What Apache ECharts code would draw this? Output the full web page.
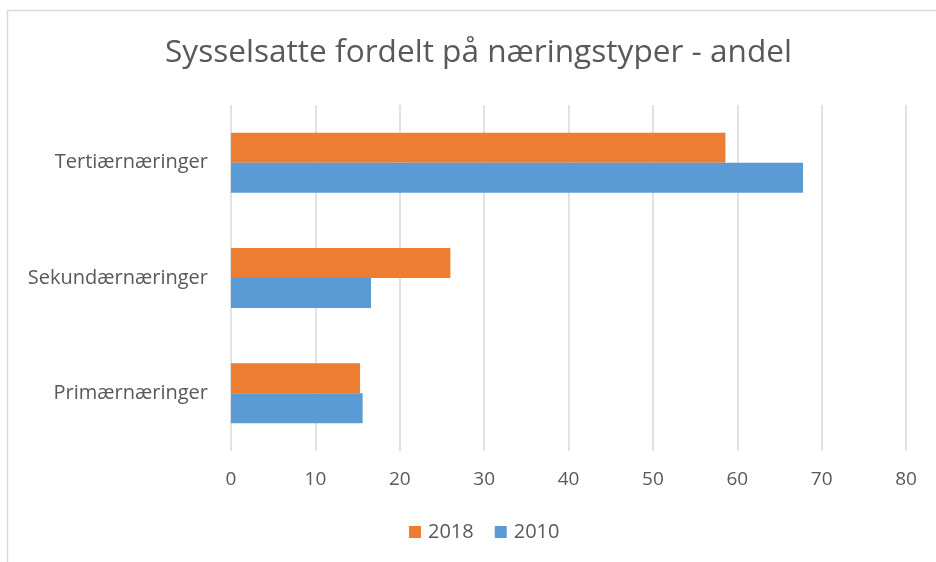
<!DOCTYPE html>
<html>
<head>
<meta charset="utf-8">
<script src="https://cdn.jsdelivr.net/npm/echarts@6/dist/echarts.min.js"></script>
<style>
  html, body { margin: 0; padding: 0; background: #fff; }
  #main { width: 936px; height: 562px; }
</style>
</head>
<body>
<div id="main"></div>
<script>
// data
const categories = ["Primærnæringer", "Sekundærnæringer", "Tertiærnæringer"];
const values2018 = [15.3, 26.0, 58.6];
const values2010 = [15.6, 16.6, 67.8];
const xTicks = { min: 0, max: 80, interval: 10 };

const chart = echarts.init(document.getElementById("main"));
const textColor = "#595959";
const fontFamily = "'Open Sans', sans-serif";

const option = {
  backgroundColor: "#fff",
  animation: false,
  title: {
    text: "Sysselsatte fordelt på næringstyper - andel",
    left: 160,
    top: 32,
    textStyle: { color: textColor, fontSize: 31.6, fontWeight: "normal", fontFamily },
  },
  graphic: [
    {
      type: "rect",
      left: 5,
      top: 8,
      shape: { width: 1000, height: 1000 },
      style: { fill: "none", stroke: "#d9d9d9", lineWidth: 1.5 },
      silent: true,
    },
  ],
  legend: {
    data: ["2018", "2010"],
    bottom: 15,
    left: 404,
    itemWidth: 12,
    itemHeight: 12,
    itemGap: 21,
    icon: "rect",
    textStyle: { color: textColor, fontSize: 20, fontFamily, padding: [0, 0, 0, 2] },
  },
  grid: { left: 231, right: 30, top: 105, bottom: 111 },
  xAxis: {
    type: "value",
    min: xTicks.min,
    max: xTicks.max,
    interval: xTicks.interval,
    axisLine: { show: false },
    axisTick: { show: false },
    axisLabel: { color: textColor, fontSize: 19, fontFamily, margin: 19 },
    splitLine: { lineStyle: { color: "#d9d9d9", width: 1.5 } },
  },
  yAxis: {
    type: "category",
    data: categories,
    axisLine: { show: false },
    axisTick: { show: false },
    axisLabel: { color: textColor, fontSize: 20, fontFamily, margin: 23 },
  },
  series: [
    {
      name: "2018",
      type: "bar",
      data: values2018,
      barWidth: 30,
      barGap: "0%",
      itemStyle: { color: "#ED7D31" },
    },
    {
      name: "2010",
      type: "bar",
      data: values2010,
      barWidth: 30,
      barGap: "0%",
      itemStyle: { color: "#5B9BD5" },
    },
  ],
};

chart.setOption(option);
</script>
</body>
</html>
